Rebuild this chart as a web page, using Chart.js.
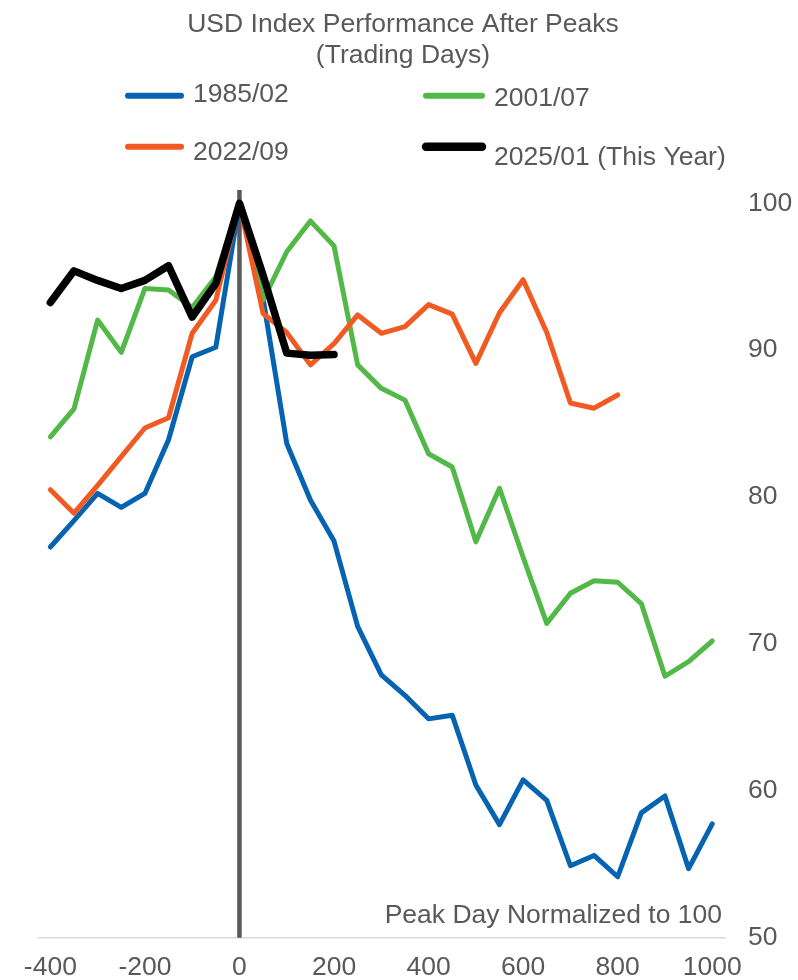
<!DOCTYPE html>
<html>
<head>
<meta charset="utf-8">
<title>USD Index Performance After Peaks</title>
<script src="https://cdn.jsdelivr.net/npm/chart.js@4.4.1/dist/chart.umd.min.js"></script>
<style>
  html, body { margin: 0; padding: 0; background: #ffffff; }
  canvas { display: block; }
</style>
</head>
<body>
<canvas id="chart" width="798" height="980"></canvas>
<script>
// Trading days relative to each peak (peak day = 0)
const days = [-400, -350, -300, -250, -200, -150, -100, -50, 0, 50, 100, 150, 200, 250, 300,
              350, 400, 450, 500, 550, 600, 650, 700, 750, 800, 850, 900, 950, 1000];

const seriesLabels = ['1985/02', '2001/07', '2022/09', '2025/01 (This Year)'];

// USD index, normalized so the peak day = 100
const usd1985 = [76.6, 78.4, 80.25, 79.3, 80.25, 83.9, 89.55, 90.2, 100, 93.5, 83.65, 79.8, 77.0, 71.2, 67.9,
                 66.5, 64.9, 65.15, 60.4, 57.7, 60.75, 59.35, 54.9, 55.6, 54.15, 58.5, 59.65, 54.7, 57.75];
const usd2001 = [84.1, 86.0, 92.05, 89.85, 94.2, 94.1, 92.9, 95.0, 100, 93.4, 96.7, 98.8, 97.1, 89.0, 87.4,
                 86.6, 82.95, 82.05, 76.95, 80.6, 75.9, 71.4, 73.45, 74.3, 74.2, 72.75, 67.8, 68.8, 70.2];
const usd2022 = [80.5, 78.9, 80.8, 82.75, 84.7, 85.4, 91.15, 93.4, 100, 92.5, 91.2, 89.0, 90.45, 92.4, 91.15,
                 91.6, 93.1, 92.45, 89.1, 92.55, 94.8, 91.2, 86.4, 86.05, 86.95];
const usd2025 = [93.25, 95.4, 94.75, 94.2, 94.75, 95.75, 92.25, 94.55, 100, 95.1, 89.8, 89.65, 89.7];

const xTicks = [-400, -200, 0, 200, 400, 600, 800, 1000];
const yTicks = [50, 60, 70, 80, 90, 100];

const titleLines = ['USD Index Performance After Peaks', '(Trading Days)'];
const noteText = 'Peak Day Normalized to 100';

const FONT = '"Liberation Sans", Arial, Helvetica, sans-serif';
const TEXT = '#595959';
const FONT_SIZE = 26.5;

const toPoints = values => values.map((v, i) => ({ x: days[i], y: v }));

function lineSeries(label, values, color, width, order) {
  return {
    label,
    data: toPoints(values),
    borderColor: color,
    backgroundColor: color,
    borderWidth: width,
    pointRadius: 0,
    pointHoverRadius: 0,
    tension: 0,
    fill: false,
    borderCapStyle: 'round',
    borderJoinStyle: 'round',
    order
  };
}

// Title, two-column legend, peak-day marker and footnote
const decorations = {
  id: 'decorations',
  beforeDatasetsDraw(chart) {
    const { ctx, chartArea, scales } = chart;
    const x0 = scales.x.getPixelForValue(0);
    ctx.save();
    ctx.strokeStyle = '#595959';
    ctx.lineWidth = 4.5;
    ctx.beginPath();
    ctx.moveTo(x0, chartArea.top);
    ctx.lineTo(x0, chartArea.bottom);
    ctx.stroke();
    ctx.restore();
  },
  afterDraw(chart) {
    const { ctx, chartArea } = chart;
    ctx.save();
    ctx.fillStyle = TEXT;
    ctx.font = `${FONT_SIZE}px ${FONT}`;
    ctx.textBaseline = 'alphabetic';

    ctx.textAlign = 'center';
    titleLines.forEach((line, i) => ctx.fillText(line, 403, 32.3 + i * 31));

    const slots = [
      { x: 128, len: 53, y: 95.7, ty: 101.7 },
      { x: 426, len: 56, y: 95.7, ty: 106 },
      { x: 128, len: 53, y: 146.7, ty: 160 },
      { x: 426, len: 56, y: 146.7, ty: 165 }
    ];
    ctx.textAlign = 'left';
    chart.data.datasets.forEach((ds, i) => {
      const s = slots[i];
      ctx.strokeStyle = ds.borderColor;
      ctx.lineWidth = Math.max(ds.borderWidth + 1, 6);
      ctx.lineCap = 'round';
      ctx.beginPath();
      ctx.moveTo(s.x, s.y);
      ctx.lineTo(s.x + s.len, s.y);
      ctx.stroke();
      ctx.fillStyle = TEXT;
      ctx.fillText(ds.label, s.x + s.len + 12, s.ty);
    });

    ctx.textAlign = 'right';
    ctx.fillText(noteText, chartArea.right - 3, chartArea.bottom - 14.4);
    ctx.restore();
  }
};

new Chart(document.getElementById('chart'), {
  type: 'line',
  data: {
    datasets: [
      lineSeries(seriesLabels[0], usd1985, '#0563B1', 5, 4),
      lineSeries(seriesLabels[1], usd2001, '#52B848', 5, 3),
      lineSeries(seriesLabels[2], usd2022, '#F15A22', 5, 2),
      lineSeries(seriesLabels[3], usd2025, '#000000', 7.5, 1)
    ]
  },
  options: {
    responsive: false,
    animation: false,
    events: [],
    layout: { padding: { top: 190, left: 39, right: 0, bottom: 0 } },
    plugins: {
      legend: { display: false },
      title: { display: false },
      tooltip: { enabled: false }
    },
    scales: {
      x: {
        type: 'linear',
        position: 'bottom',
        min: -424,
        max: 1027,
        grid: { display: false, drawTicks: false },
        border: { display: true, color: '#D9D9D9', width: 1.5 },
        ticks: {
          color: TEXT,
          font: { family: FONT, size: FONT_SIZE },
          padding: 14,
          maxRotation: 0,
          autoSkip: false,
          callback: value => String(value)
        },
        afterBuildTicks(scale) { scale.ticks = xTicks.map(v => ({ value: v })); },
        afterFit(scale) { scale.height = 42.3; }
      },
      y: {
        type: 'linear',
        position: 'right',
        min: 50,
        max: 100.905,
        grid: { display: false, drawTicks: false },
        border: { display: false },
        ticks: {
          color: TEXT,
          font: { family: FONT, size: FONT_SIZE },
          padding: 23,
          autoSkip: false,
          callback: value => String(value)
        },
        afterBuildTicks(scale) { scale.ticks = yTicks.map(v => ({ value: v })); },
        afterFit(scale) { scale.width = 73; }
      }
    }
  },
  plugins: [decorations]
});
</script>
</body>
</html>
